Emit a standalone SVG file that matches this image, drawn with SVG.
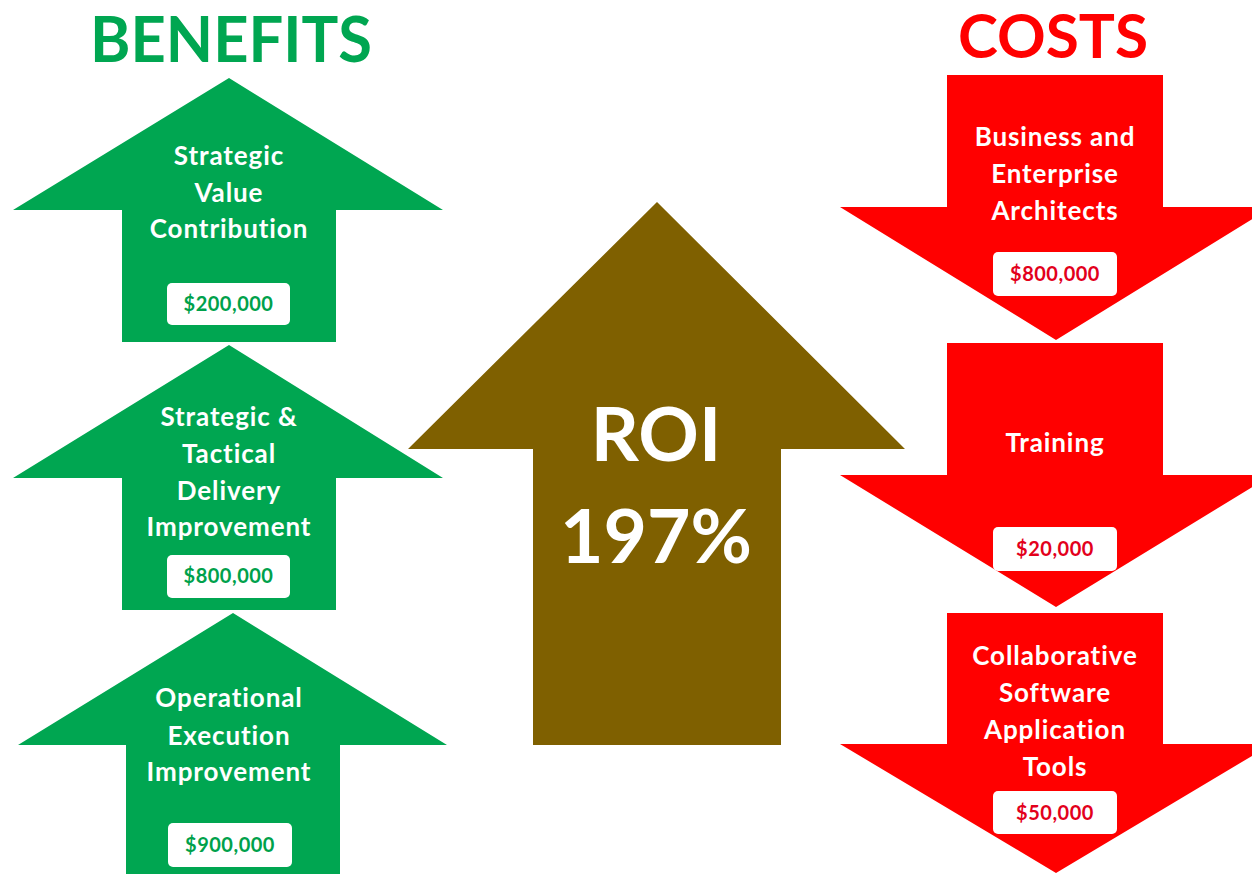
<svg xmlns="http://www.w3.org/2000/svg" width="1252" height="874" viewBox="0 0 1252 874">
  <style>
    .title { font-family: Lato, "Noto Sans", "Liberation Sans", sans-serif; font-weight: 700; text-anchor: middle; }
    .lbl { font-family: Lato, "Noto Sans", "Liberation Sans", sans-serif; font-weight: 700; font-size: 26px; letter-spacing: 0.9px; fill: #ffffff; text-anchor: middle; }
    .big { font-family: Lato, "Noto Sans", "Liberation Sans", sans-serif; font-weight: 700; font-size: 75px; fill: #ffffff; text-anchor: middle; }
    .val { font-family: Lato, "Noto Sans", "Liberation Sans", sans-serif; font-weight: 700; font-size: 20px; letter-spacing: 0.5px; text-anchor: middle; }
    .up { fill: #00A651; }
    .down { fill: #FF0000; }
    .box { fill: #ffffff; }
    .gv { fill: #00A14B; }
    .rv { fill: #E3001B; }
  </style>
  <rect width="1252" height="874" fill="#ffffff"/>

  <text class="title" x="231" y="62" font-size="64" fill="#00A651" textLength="282" lengthAdjust="spacingAndGlyphs">BENEFITS</text>
  <text class="title" x="1053" y="58" font-size="62" fill="#FF0000" textLength="190" lengthAdjust="spacingAndGlyphs">COSTS</text>

  <!-- Benefit arrows (pointing up) -->
  <g id="benefit-strategic-value">
    <polygon class="up" points="229,78 443,210 336,210 336,342 122,342 122,210 13,210"/>
    <text class="lbl" x="229" y="165">Strategic</text>
    <text class="lbl" x="229" y="202">Value</text>
    <text class="lbl" x="229" y="238">Contribution</text>
    <rect class="box" x="167" y="283" width="123" height="42" rx="5"/>
    <text class="val gv" x="228.5" y="311">$200,000</text>
  </g>

  <g id="benefit-delivery">
    <polygon class="up" points="229,345 443,478 336,478 336,610 122,610 122,478 13,478"/>
    <text class="lbl" x="229" y="426">Strategic &amp;</text>
    <text class="lbl" x="229" y="463">Tactical</text>
    <text class="lbl" x="229" y="500">Delivery</text>
    <text class="lbl" x="229" y="536">Improvement</text>
    <rect class="box" x="167" y="555" width="123" height="43" rx="5"/>
    <text class="val gv" x="228.5" y="583">$800,000</text>
  </g>

  <g id="benefit-operational">
    <polygon class="up" points="233,613 447,745 340,745 340,880 126,880 126,745 18,745"/>
    <text class="lbl" x="229" y="707">Operational</text>
    <text class="lbl" x="229" y="745">Execution</text>
    <text class="lbl" x="229" y="781">Improvement</text>
    <rect class="box" x="168" y="823" width="124" height="44" rx="5"/>
    <text class="val gv" x="230" y="852">$900,000</text>
  </g>

  <!-- Return on investment (centre) -->
  <g id="roi">
    <polygon fill="#7F6000" points="657,202 905,449 781,449 781,745 533,745 533,449 408,449"/>
    <text class="big" x="656" y="461">ROI</text>
    <text class="big" x="656" y="563">197%</text>
  </g>

  <!-- Cost arrows (pointing down) -->
  <g id="cost-architects">
    <polygon class="down" points="947,75 1163,75 1163,207 1272,207 1056,340 840,207 947,207"/>
    <text class="lbl" x="1055" y="146">Business and</text>
    <text class="lbl" x="1055" y="183">Enterprise</text>
    <text class="lbl" x="1055" y="220">Architects</text>
    <rect class="box" x="993" y="252" width="124" height="44" rx="5"/>
    <text class="val rv" x="1055" y="281">$800,000</text>
  </g>

  <g id="cost-training">
    <polygon class="down" points="947,343 1163,343 1163,475 1272,475 1056,607 840,475 947,475"/>
    <text class="lbl" x="1055" y="452">Training</text>
    <rect class="box" x="993" y="527" width="124" height="44" rx="5"/>
    <text class="val rv" x="1055" y="556">$20,000</text>
  </g>

  <g id="cost-tools">
    <polygon class="down" points="947,613 1163,613 1163,744 1272,744 1056,873 840,744 947,744"/>
    <text class="lbl" x="1055" y="665">Collaborative</text>
    <text class="lbl" x="1055" y="702">Software</text>
    <text class="lbl" x="1055" y="739">Application</text>
    <text class="lbl" x="1055" y="776">Tools</text>
    <rect class="box" x="993" y="791" width="124" height="43" rx="5"/>
    <text class="val rv" x="1055" y="820">$50,000</text>
  </g>

  <g id="connectors"/>
</svg>
